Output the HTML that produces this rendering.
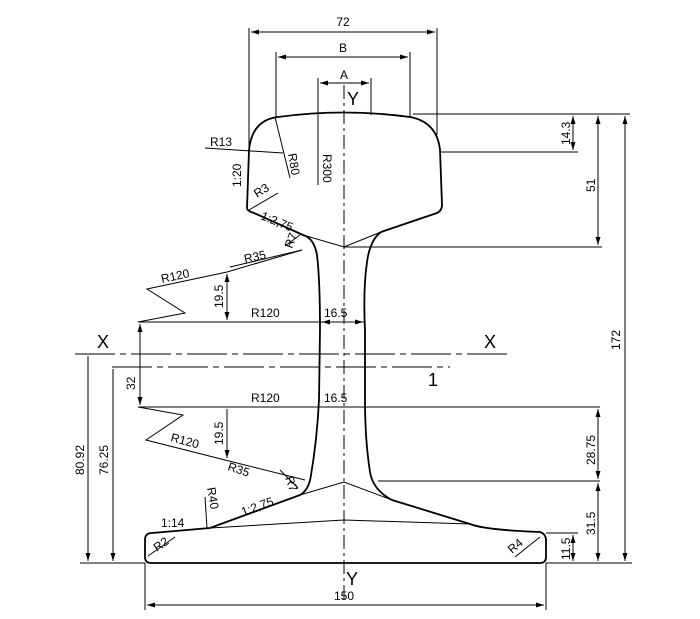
<!DOCTYPE html>
<html><head><meta charset="utf-8"><style>
html,body{margin:0;padding:0;background:#fff}
svg{display:block}
text{font-family:"Liberation Sans",sans-serif;font-size:12px;fill:#000}
.big{font-size:18px}
</style></head><body>
<svg width="700" height="619" viewBox="0 0 700 619" xmlns="http://www.w3.org/2000/svg">
<defs>
<marker id="a" markerWidth="8" markerHeight="6" refX="8" refY="3" orient="auto-start-reverse" markerUnits="userSpaceOnUse"><path d="M0,0.5 L8,3 L0,5.5 z" fill="#000"/></marker>
</defs>
<g fill="none" stroke="#000" stroke-width="1.8">
<path d="M247,208 L249,150 Q252,120 278,117 Q344,108 410,117 Q437,122 440,150 L442,205 Q442,212 434,214 L381,232 Q370,240 367,262 Q363,290 365,330 L365,400 Q365,440 370,472 Q373,490 392,500 L470,524 Q485,530 540,532 Q546,534 546,540 L546,557 Q546,563 540,563 L151,563 Q145,563 145,557 L145,540 Q145,533 152,533 L210,528 L300,495 Q309,490 311,475 Q317,440 319,400 L320,330 Q320,280 317,255 Q314,238 303,235 L254,213 Q247,211 247,208 Z"/>
</g>
<g fill="none" stroke="#000" stroke-width="1">
<path d="M303,235 L344,247 L381,232"/>
<path d="M300,495 L344,482 L392,500"/>
<path d="M210,528 L344,520 L470,524"/>
<path d="M344,85 L344,600" stroke-dasharray="14,4,3,4"/>
<path d="M75,354 L510,354" stroke-dasharray="40,5,6,5"/>
<path d="M112,367 L450,367" stroke-dasharray="40,5,6,5"/>
<path d="M249,28 L249,150 M437,28 L437,135 M276,52 L276,117 M410,52 L410,117 M318,78 L318,185 M371,78 L371,115"/>
<path d="M251,32 L435,32" marker-start="url(#a)" marker-end="url(#a)"/>
<path d="M278,57 L408,57" marker-start="url(#a)" marker-end="url(#a)"/>
<path d="M320,83 L369,83" marker-start="url(#a)" marker-end="url(#a)"/>
<path d="M275,117 L290,178"/>
<path d="M205,148 L283,153"/>
<path d="M249,210 L278,193"/>
<path d="M285,246 L300,235"/>
<path d="M230,267 L302,250"/>
<path d="M413,114 L600,114 M441,152 L578,152 M344,247 L602,247 M365,407 L600,407 M378,481 L600,481 M546,533 L578,533 M546,563 L632,563 M600,114 L630,114"/>
<path d="M573,116 L573,150" marker-start="url(#a)" marker-end="url(#a)"/>
<path d="M598,116 L598,245" marker-start="url(#a)" marker-end="url(#a)"/>
<path d="M625,116 L625,561" marker-start="url(#a)" marker-end="url(#a)"/>
<path d="M598,409 L598,479" marker-start="url(#a)" marker-end="url(#a)"/>
<path d="M598,483 L598,561" marker-start="url(#a)" marker-end="url(#a)"/>
<path d="M573,535 L573,561" marker-start="url(#a)" marker-end="url(#a)"/>
<path d="M138,322 L365,322 M138,407 L365,407"/>
<path d="M140,324 L140,405" marker-start="url(#a)" marker-end="url(#a)"/>
<path d="M88,356 L88,561" marker-end="url(#a)"/>
<path d="M113,369 L113,561" marker-end="url(#a)"/>
<path d="M80,563 L145,563"/>
<path d="M138,322 L185,313 L147,289 L227,272 L302,250"/>
<path d="M138,407 L183,415 L146,440 L225,460 L305,480"/>
<path d="M227,274 L227,320" marker-start="url(#a)" marker-end="url(#a)"/>
<path d="M227,409 L227,458" marker-end="url(#a)"/>
<path d="M322,322 L363,322" marker-start="url(#a)" marker-end="url(#a)"/>
<path d="M322,407 L363,407"/>
<path d="M280,470 L298,488"/>
<path d="M145,563 L145,610 M546,563 L546,610"/>
<path d="M147,605 L544,605" marker-start="url(#a)" marker-end="url(#a)"/>
<path d="M205,497 L207,528"/>
<path d="M148,556 L175,537 M515,557 L540,537"/>
</g>
<g>
<text x="343" y="26" text-anchor="middle">72</text>
<text x="343" y="52" text-anchor="middle">B</text>
<text x="344" y="79" text-anchor="middle">A</text>
<text x="347" y="105" class="big">Y</text>
<text x="346" y="585" class="big">Y</text>
<text x="210" y="146">R13</text>
<text x="0" y="0" transform="translate(288,154) rotate(80)">R80</text>
<text x="0" y="0" transform="translate(323,154) rotate(90)">R300</text>
<text x="0" y="0" transform="translate(241,187) rotate(-90)">1:20</text>
<text x="0" y="0" transform="translate(257,198) rotate(-32)">R3</text>
<text x="0" y="0" transform="translate(260,219) rotate(22)">1:2,75</text>
<text x="0" y="0" transform="translate(292,249) rotate(-70)">R7</text>
<text x="0" y="0" transform="translate(245,263) rotate(-12)">R35</text>
<text x="0" y="0" transform="translate(162,283) rotate(-12)">R120</text>
<text x="0" y="0" transform="translate(223,308) rotate(-90)">19.5</text>
<text x="251" y="317">R120</text>
<text x="324" y="317">16.5</text>
<text x="251" y="402">R120</text>
<text x="324" y="402">16.5</text>
<text x="0" y="0" transform="translate(135,390) rotate(-90)">32</text>
<text x="97" y="348" class="big">X</text>
<text x="484" y="348" class="big">X</text>
<text x="428" y="386" class="big">1</text>
<text x="0" y="0" transform="translate(223,445) rotate(-90)">19.5</text>
<text x="0" y="0" transform="translate(170,441) rotate(15)">R120</text>
<text x="0" y="0" transform="translate(227,470) rotate(18)">R35</text>
<text x="0" y="0" transform="translate(285,478) rotate(70)">R7</text>
<text x="0" y="0" transform="translate(207,488) rotate(80)">R40</text>
<text x="0" y="0" transform="translate(243,516) rotate(-20)">1:2,75</text>
<text x="161" y="527">1:14</text>
<text x="0" y="0" transform="translate(157,552) rotate(-35)">R2</text>
<text x="0" y="0" transform="translate(512,554) rotate(-40)">R4</text>
<text x="0" y="0" transform="translate(84,475) rotate(-90)">80.92</text>
<text x="0" y="0" transform="translate(108,475) rotate(-90)">76.25</text>
<text x="0" y="0" transform="translate(570,145) rotate(-90)">14.3</text>
<text x="0" y="0" transform="translate(595,192) rotate(-90)">51</text>
<text x="0" y="0" transform="translate(620,350) rotate(-90)">172</text>
<text x="0" y="0" transform="translate(595,465) rotate(-90)">28.75</text>
<text x="0" y="0" transform="translate(595,535) rotate(-90)">31.5</text>
<text x="0" y="0" transform="translate(570,560) rotate(-90)">11.5</text>
<text x="344" y="600" text-anchor="middle">150</text>
</g>
</svg>
</body></html>
